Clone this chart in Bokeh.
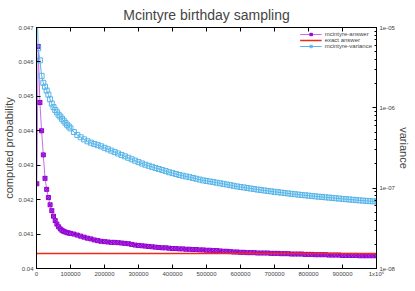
from bokeh.plotting import figure
from bokeh.models import (LinearAxis, LogAxis, Range1d, LogScale, FixedTicker, Label,
                          CustomJSTickFormatter, Legend, LegendItem, LogTicker)
from bokeh.embed import file_html
from bokeh.resources import INLINE

# ---- data ----
samples = [1000, 5000] + list(range(10000, 100001, 5000)) + list(range(110000, 1000001, 10000))

answer = [0.04246, 0.04645,
          0.04482, 0.04400, 0.04330, 0.04262, 0.04230, 0.04206, 0.04185, 0.04168, 0.04152, 0.04139,
          0.04129, 0.04121, 0.04115, 0.04111, 0.04108, 0.04106, 0.04104, 0.04103, 0.04102,
          0.04100, 0.04097, 0.04094, 0.04091, 0.04088, 0.04086, 0.04083, 0.04081, 0.04079, 0.04078,
          0.04077, 0.04076, 0.04076, 0.04075, 0.04074, 0.04073, 0.04072, 0.04070, 0.04068, 0.04067,
          0.04066, 0.04065, 0.04064, 0.04063, 0.04062, 0.04061, 0.04060, 0.04060, 0.04059, 0.04058,
          0.04058, 0.04057, 0.04057, 0.04056, 0.04056, 0.04055, 0.04055, 0.04054, 0.04054, 0.04053,
          0.04053, 0.04052, 0.04052, 0.04051, 0.04050, 0.04050, 0.04049, 0.04048, 0.04048, 0.04047,
          0.04047, 0.04046, 0.04046, 0.04046, 0.04045, 0.04045, 0.04045, 0.04045, 0.04044, 0.04044,
          0.04044, 0.04043, 0.04043, 0.04043, 0.04042, 0.04042, 0.04042, 0.04042, 0.04041, 0.04041,
          0.04041, 0.04040, 0.04040, 0.04040, 0.04040, 0.04039, 0.04039, 0.04039, 0.04039, 0.04038,
          0.04038, 0.04038, 0.04038, 0.04038, 0.04037, 0.04037, 0.04037, 0.04037, 0.04037, 0.04037]

variance = [2.5e-5, 5.5e-6,
            3.9e-6, 2.5e-6, 2.05e-6, 1.83e-6, 1.64e-6, 1.46e-6, 1.28e-6, 1.13e-6, 1.02e-6, 9.4e-7,
            8.8e-7, 8.2e-7, 7.8e-7, 7.3e-7, 6.9e-7, 6.5e-7, 6.15e-7, 5.85e-7, 5.55e-7,
            5.0e-7, 4.6e-7, 4.3e-7, 4.05e-7, 3.83e-7, 3.68e-7, 3.55e-7, 3.43e-7, 3.32e-7, 3.18e-7,
            3.05e-7, 2.93e-7, 2.81e-7, 2.70e-7, 2.59e-7, 2.49e-7, 2.39e-7, 2.29e-7, 2.20e-7, 2.11e-7,
            2.03e-7, 1.96e-7, 1.90e-7, 1.84e-7, 1.78e-7, 1.73e-7, 1.68e-7, 1.63e-7, 1.58e-7, 1.54e-7,
            1.50e-7, 1.46e-7, 1.43e-7, 1.40e-7, 1.37e-7, 1.34e-7, 1.31e-7, 1.28e-7, 1.25e-7, 1.23e-7,
            1.21e-7, 1.19e-7, 1.17e-7, 1.15e-7, 1.13e-7, 1.11e-7, 1.09e-7, 1.07e-7, 1.05e-7, 1.035e-7,
            1.02e-7, 1.005e-7, 9.9e-8, 9.75e-8, 9.6e-8, 9.48e-8, 9.36e-8, 9.24e-8, 9.12e-8, 9.0e-8,
            8.9e-8, 8.8e-8, 8.7e-8, 8.6e-8, 8.5e-8, 8.41e-8, 8.32e-8, 8.23e-8, 8.15e-8, 8.07e-8,
            7.99e-8, 7.91e-8, 7.84e-8, 7.77e-8, 7.70e-8, 7.63e-8, 7.56e-8, 7.49e-8, 7.42e-8, 7.35e-8,
            7.29e-8, 7.23e-8, 7.17e-8, 7.11e-8, 7.05e-8, 7.00e-8, 6.95e-8, 6.90e-8, 6.86e-8, 6.82e-8]

exact_answer = 0.040435

x_ticks = [0, 100000, 200000, 300000, 400000, 500000, 600000, 700000, 800000, 900000, 1000000]
y_ticks = [0.040, 0.041, 0.042, 0.043, 0.044, 0.045, 0.046, 0.047]

assert len(samples) == len(answer) == len(variance)

FONT = "Liberation Sans"
PURPLE = "#9400d3"
BLUE = "#56b4e9"
RED = "#f02a1a"

p = figure(width=415, height=291, x_range=Range1d(0, 1000000), y_range=Range1d(0.04, 0.047),
           output_backend="svg", toolbar_location=None,
           title="Mcintyre birthday sampling",
           y_axis_label="computed probability",
           min_border_left=34, min_border_right=39, min_border_top=25, min_border_bottom=23)
p.extra_y_ranges = {"var": Range1d(1e-8, 1e-5)}
p.extra_y_scales = {"var": LogScale()}

p.title.align = "center"
p.title.text_font = FONT
p.title.text_font_style = "normal"
p.title.text_font_size = "14px"
p.title.standoff = 9
p.xgrid.visible = False
p.ygrid.visible = False
p.outline_line_color = "black"
p.background_fill_color = "white"
p.border_fill_color = "white"

def style_axis(ax, minor=False):
    ax.axis_line_color = "black"
    ax.major_tick_in = 4
    ax.major_tick_out = 0
    ax.major_tick_line_color = "black"
    if minor:
        ax.minor_tick_in = 2
        ax.minor_tick_out = 0
        ax.minor_tick_line_color = "black"
    else:
        ax.minor_tick_line_color = None
    ax.major_label_text_font = FONT
    ax.major_label_text_font_size = "6px"
    ax.major_label_standoff = 3
    ax.axis_label_text_font = FONT
    ax.axis_label_text_font_style = "normal"
    ax.axis_label_text_font_size = "11px"
    ax.axis_label_standoff = 0

xa = p.xaxis[0]
style_axis(xa)
xa.ticker = FixedTicker(ticks=x_ticks)
xa.formatter = CustomJSTickFormatter(code="return tick >= 1000000 ? '1x10\u2076' : tick.toFixed(0);")
xa.major_label_standoff = 2

ya = p.yaxis[0]
style_axis(ya)
ya.ticker = FixedTicker(ticks=y_ticks)
ya.formatter = CustomJSTickFormatter(code="return String(parseFloat(tick.toFixed(4)));")

top = LinearAxis(ticker=FixedTicker(ticks=x_ticks))
style_axis(top)
top.formatter = CustomJSTickFormatter(code="return '';")
top.major_label_standoff = 0
p.add_layout(top, "above")

ra = LogAxis(y_range_name="var", axis_label="variance", ticker=LogTicker(num_minor_ticks=10))
style_axis(ra, minor=True)
ra.formatter = CustomJSTickFormatter(code="""
var e = Math.round(Math.log10(tick));
return '1e' + (e < 0 ? '-' : '+') + String(Math.abs(e)).padStart(2, '0');
""")
p.add_layout(ra, "right")

# x-axis title, placed just under the tick labels
p.add_layout(Label(x=169, y=-9, x_units="screen", y_units="screen", text="samples",
                   text_font=FONT, text_font_size="11px", text_align="center",
                   text_baseline="top", text_color="black"))

ans_line = p.line(samples, answer, line_color="#c070e8", line_width=1)
ans_pts = p.scatter(samples, answer, marker="square_x", size=4, line_color=PURPLE,
                    fill_color="#b050e0", line_width=1)
ex_line = p.line(samples, [exact_answer] * len(samples), line_color=RED, line_width=1.5)
var_line = p.line(samples, variance, y_range_name="var", line_color=BLUE, line_width=1)
var_pts = p.scatter(samples, variance, y_range_name="var", marker="square", size=5,
                    line_color=BLUE, fill_color=None, line_width=1)

legend = Legend(items=[
    LegendItem(label="mcintyre-answer", renderers=[ans_line, ans_pts]),
    LegendItem(label="exact answer", renderers=[ex_line]),
    LegendItem(label="mcintyre-variance", renderers=[var_line, var_pts]),
], location="top_right")
legend.label_text_font = FONT
legend.label_text_font_size = "6px"
legend.label_height = 6
legend.glyph_height = 6
legend.glyph_width = 22
legend.spacing = 0
legend.padding = 2
legend.margin = 4
legend.label_standoff = 3
legend.border_line_color = None
legend.background_fill_alpha = 0
p.add_layout(legend)

open("out.html", "w").write(file_html(p, INLINE))
